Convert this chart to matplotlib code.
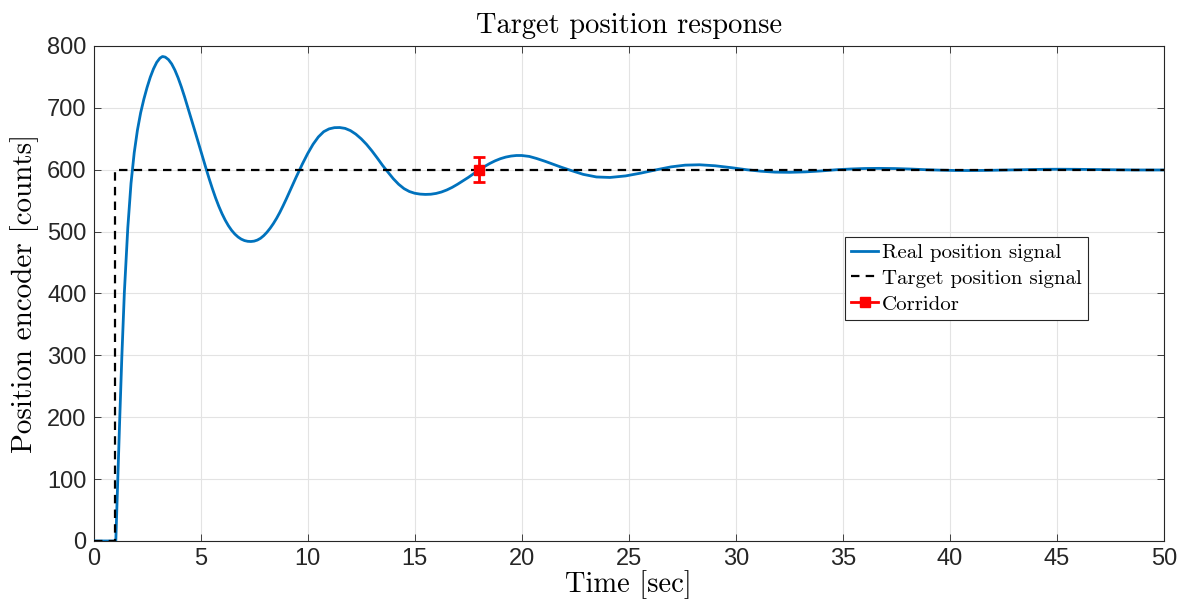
import matplotlib.pyplot as plt
from matplotlib.lines import Line2D

time_real = [0, 1.04, 1.13, 1.22, 1.32, 1.44, 1.6, 1.75, 1.9, 2.05, 2.2, 2.35,
             2.5, 2.65, 2.8, 2.95, 3.1, 3.22, 3.35, 3.5, 3.65, 3.8, 3.95, 4.1,
             4.25, 4.4, 4.55, 4.7, 4.85, 5.0, 5.15, 5.28, 5.4, 5.55, 5.7, 5.85,
             6.0, 6.15, 6.3, 6.45, 6.6, 6.75, 6.9, 7.05, 7.2, 7.35, 7.5, 7.65,
             7.8, 7.95, 8.1, 8.25, 8.4, 8.55, 8.7, 8.85, 9.0, 9.15, 9.3, 9.45,
             9.6, 9.75, 10.0, 10.25, 10.5, 10.75, 11.0, 11.25, 11.5, 11.75, 12.0,
             12.25, 12.5, 12.75, 13.0, 13.25, 13.5, 13.66, 14.0, 14.25, 14.5,
             14.75, 15.0, 15.25, 15.5, 15.75, 16.0, 16.25, 16.5, 16.75, 17.0,
             17.25, 17.5, 17.75, 18.0, 18.25, 18.5, 18.75, 19.0, 19.25, 19.5,
             19.75, 20.0, 20.35, 20.69, 21.1, 21.47, 21.85, 22.24, 22.87, 23.49,
             24.12, 24.85, 25.57, 26.3, 26.97, 27.63,
             28.3, 29.03, 29.77, 30.5, 31.17, 31.83,
             32.5, 33.23, 33.97, 34.7, 35.37, 36.03,
             36.7, 37.43, 38.17, 38.9, 39.57, 40.23,
             40.9, 41.63, 42.37, 43.1, 43.77, 44.43,
             45.1, 45.83, 46.57, 47.3, 47.97, 48.63, 49.3, 50]
pos_real = [0, 0, 97, 194, 296, 402, 506, 578, 627.5, 664, 692, 714,
            733, 749.5, 763, 773.5, 780.3, 783, 782, 778, 771, 761, 748.5, 734,
            718, 701, 684, 666.5, 649, 631.5, 614, 599, 585.5, 569.5, 554.5, 541,
            529, 518.5, 509.5, 502, 496, 491.3, 487.8, 485.5, 484.3, 484, 484.6, 486.3,
            489.2, 493.5, 499, 505.5, 513, 521.5, 531, 541.5, 552.5, 564, 575.5, 587,
            598, 609, 626, 641, 653, 661.5, 666, 668, 668.2, 666.8, 663.2,
            657.5, 650, 641, 630.5, 619, 607, 600, 585.5, 576.5, 569.5,
            564.8, 562, 560.6, 560.1, 560.4, 561.7, 564, 567.3, 571.5, 576.5,
            582, 587.5, 593.5, 599.5, 605, 610, 614.3, 617.8, 620.4, 622.1,
            623, 623, 621.5, 618.2, 613.5, 608.8, 604, 599.5, 592.5, 588.3,
            587.5, 590.0, 594.6, 600, 604.6, 607.4,
            608, 606.4, 603.4, 600, 597.6, 596.1,
            595.8, 596.5, 598.0, 600, 601.2, 602.0,
            602.2, 601.9, 601.1, 600, 599.3, 598.8,
            598.7, 598.9, 599.4, 600, 600.4, 600.7,
            600.8, 600.7, 600.4, 600, 599.8, 599.6, 599.55, 599.6]

# target step
time_target = [0, 1, 1, 50]
pos_target = [0, 0, 600, 600]

# corridor marker
corr_t = [18]
corr_y = [600]
corr_err = [20]

plt.rcParams['font.family'] = 'Liberation Sans'

fig = plt.figure(figsize=(11.87, 6.09), dpi=100)
ax = fig.add_axes([0.0788, 0.1117, 0.9019, 0.8128])

ax.plot(time_real, pos_real, color='#0072BD', lw=2, label='Real position signal', zorder=3)
ax.plot(time_target, pos_target, 'k--', lw=1.6, dashes=(3.8, 2.8), label='Target position signal', zorder=4)
ax.errorbar(corr_t, corr_y, yerr=corr_err, fmt='s', color='red', ms=7, lw=2,
            capsize=4, capthick=2, zorder=5)

ax.set_xlim(0, 50)
ax.set_ylim(0, 800)
ax.set_xticks(range(0, 51, 5))
ax.set_yticks(range(0, 801, 100))
ax.grid(True, color='#e3e3e3', lw=0.8)
ax.set_axisbelow(True)
ax.tick_params(direction='in', top=True, right=True, length=5, width=0.6,
               labelsize=17, colors='#262626', pad=5)
for s in ax.spines.values():
    s.set_color('#262626')
    s.set_linewidth(0.8)

ax.set_title('Target position response', fontfamily='cmr10', fontsize=20.5, pad=9)
ax.set_xlabel('Time [sec]', fontfamily='cmr10', fontsize=20.5, labelpad=0)
ax.set_ylabel('Position encoder [counts]', fontfamily='cmr10', fontsize=21, labelpad=6)

handles, labels = ax.get_legend_handles_labels()
handles.append(Line2D([], [], color='red', marker='s', ms=7, lw=2))
labels.append('Corridor')
leg = ax.legend(handles, labels, loc='upper left', bbox_to_anchor=(0.702, 0.614),
                prop={'family': 'cmr10', 'size': 15}, frameon=True, fancybox=False,
                edgecolor='#262626', framealpha=1, handlelength=1.3,
                borderpad=0.3, labelspacing=0.35, handletextpad=0.15, borderaxespad=0)
leg.get_frame().set_linewidth(0.8)

fig.savefig('out.png', dpi=100)
